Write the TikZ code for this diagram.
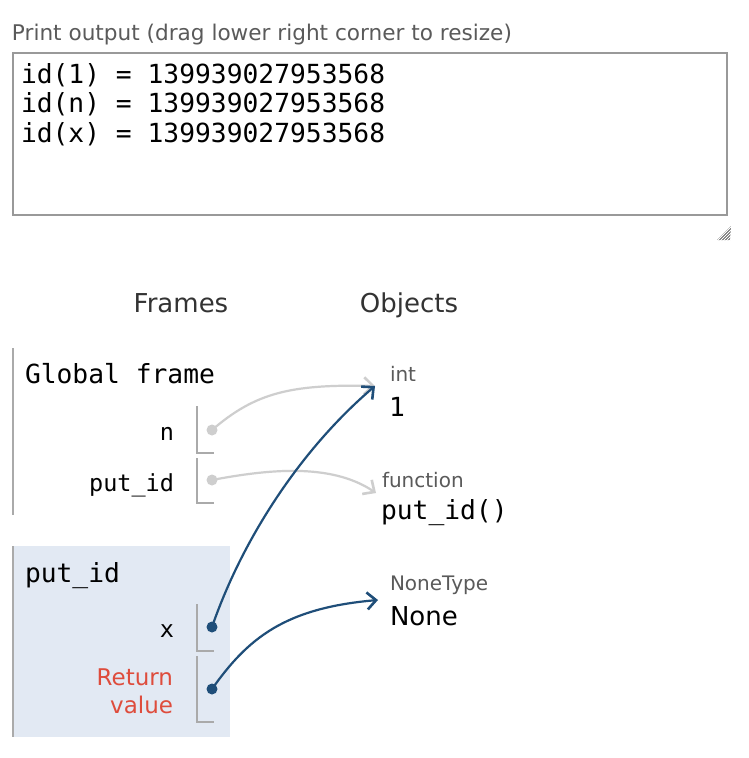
\documentclass[tikz,border=0pt]{standalone}
\usepackage{fontspec}
\setmainfont{DejaVu Sans}
\setmonofont{DejaVu Sans Mono}
\usetikzlibrary{arrows.meta}
\definecolor{ptblue}{RGB}{31,78,121}
\definecolor{ptgray}{RGB}{206,206,206}
\definecolor{ptred}{RGB}{222,76,60}
\definecolor{ptfill}{RGB}{226,233,243}
\definecolor{ptline}{RGB}{170,170,170}
\definecolor{ptlabel}{RGB}{90,90,90}
\definecolor{ptdark}{RGB}{51,51,51}
\definecolor{ptbox}{RGB}{153,153,153}
\newcommand{\myfs}[1]{\fontsize{#1pt}{#1pt}\selectfont}
\begin{document}
\begin{tikzpicture}[x=1pt,y=-1pt,
  every node/.style={inner sep=0pt,outer sep=0pt},
  sanslbl/.style={anchor=base west,text=ptlabel,font=\myfs{20}},
  monotxt/.style={anchor=base west,text=black,font=\ttfamily\myfs{26.3}},
  varname/.style={anchor=base east,text=black,font=\ttfamily\myfs{23.5}},
  header/.style={anchor=base,text=ptdark,font=\myfs{26}},
  frameline/.style={draw=ptline,line width=2pt},
  varbox/.style={draw=ptline,line width=2pt},
  bluearrow/.style={draw=ptblue,line width=2.2pt,-{Straight Barb[length=9pt,width=17pt,line width=2.6pt]}},
  grayarrow/.style={draw=ptgray,line width=2.2pt,-{Straight Barb[length=9pt,width=17pt,line width=2.6pt]}},
  bluedot/.style={circle,fill=ptblue,minimum size=11pt},
  graydot/.style={circle,fill=ptgray,minimum size=11pt}]
\useasboundingbox (0,0) rectangle (748,758);
\fill[white] (0,0) rectangle (748,758);

% print output
\node[anchor=base west,text=ptlabel,font=\myfs{21.6}] (ptitle) at (12,40) {Print output (drag lower right corner to resize)};
\draw[draw=ptbox,line width=2pt] (13,53) rectangle (727,215);
\node[monotxt] (out1) at (21,83) {id(1) = 139939027953568};
\node[monotxt] (out2) at (21,112) {id(n) = 139939027953568};
\node[monotxt] (out3) at (21,142) {id(x) = 139939027953568};
\fill[gray!80!black] (731,226) -- (730,240) -- (717,240) -- cycle;
\foreach \k in {0,3,6,9,12} {\draw[white,line width=0.9pt] (716+\k,242) -- (732,226+\k);}

% headers
\node[header] (frames) at (181,312) {Frames};
\node[header] (objects) at (409,312) {Objects};

% global frame
\draw[frameline] (13,348) -- (13,515);
\node[monotxt] (gf) at (25,383) {Global frame};
\node[varname] (nname) at (174,440) {n};
\draw[varbox] (197,406) -- (197,453) -- (214,453);
\node[varname] (pname) at (174,491) {put\_id};
\draw[varbox] (197,458) -- (197,503) -- (214,503);

% put_id frame
\fill[ptfill] (13,546) rectangle (230,737);
\draw[frameline] (13,546) -- (13,737);
\node[monotxt] (pf) at (25,582) {put\_id};
\node[varname] (xname) at (174,637) {x};
\draw[varbox] (197,604) -- (197,651) -- (214,651);
\node[anchor=base east,text=ptred,font=\myfs{23}] (ret1) at (173,685) {Return};
\node[anchor=base east,text=ptred,font=\myfs{23}] (ret2) at (173,713) {value};
\draw[varbox] (197,656) -- (197,722) -- (214,722);

% objects
\node[sanslbl] (inttype) at (390,381) {int};
\node[monotxt] (intval) at (389,416) {1};
\node[sanslbl] (functype) at (382,487) {function};
\node[monotxt] (funcval) at (381,519) {put\_id()};
\node[sanslbl] (nonetype) at (390,590) {NoneType};
\node[anchor=base west,text=black,font=\myfs{26}] (noneval) at (390,625) {None};

\coordinate (intin) at (375,386);
\coordinate (funcin) at (376,493);
\coordinate (nonein) at (378,600);

% dots
\node[graydot] (ndot) at (212,430) {};
\node[graydot] (pdot) at (212,480) {};
\node[bluedot] (xdot) at (212,627) {};
\node[bluedot] (rdot) at (212,689) {};

% arrows
\draw[grayarrow] (ndot.center) .. controls (255,393) and (290,384) .. (intin);
\draw[grayarrow] (pdot.center) .. controls (265,470) and (330,462) .. (funcin);
\draw[bluearrow] (xdot.center) .. controls (242,540) and (300,450) .. (intin);
\draw[bluearrow] (rdot.center) .. controls (248,638) and (285,608) .. (nonein);
\end{tikzpicture}
\end{document}
